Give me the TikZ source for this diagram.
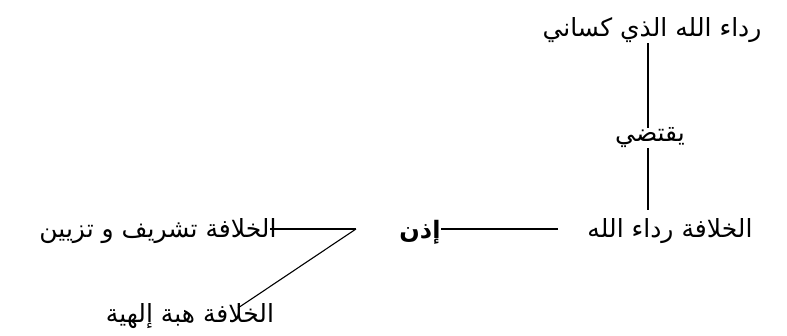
\documentclass[tikz,border=0pt]{standalone}
\usepackage{fontspec}
\newfontfamily\arabicfont[Script=Arabic]{DejaVu Sans}
\TeXXeTstate=1
\usetikzlibrary{positioning}

\begin{document}
\begin{tikzpicture}[x=1pt,y=-1pt]
  \tikzset{
    term/.style={
      font=\arabicfont\fontsize{25}{28}\selectfont,
      inner sep=0pt,
      anchor=center
    },
    keyword/.style={
      font=\arabicfont\bfseries\fontsize{24}{28}\selectfont,
      inner sep=0pt,
      anchor=center
    },
    link/.style={
      draw,
      line width=1.1pt
    }
  }
  \useasboundingbox (0,0) rectangle (787,336);

  % Draw the terms
  \node[term] at (652, 30) (rida) {\beginR رداء الله الذي كساني\endR};
  \node[term] at (650, 138) (yaqtadi) {\beginR يقتضي\endR};
  \node[term] at (670, 231) (khilafa) {\beginR الخلافة رداء الله\endR};
  \node[keyword] at (420, 232) (idhan) {\beginR إذن\endR};
  \node[term] at (158, 231) (tashrif) {\beginR الخلافة تشريف و تزيين\endR};
  \node[term] at (190, 316) (hiba) {\beginR الخلافة هبة إلهية\endR};

  % Free ends of the fork
  \coordinate (fork) at (356, 229);
  \coordinate (tashrifend) at (270, 229);
  \coordinate (hibaend) at (238, 308);

  % Draw the links
  \draw[link] (yaqtadi.north -| 648,0) -- (648, 43);
  \draw[link] (yaqtadi.south -| 648,0) -- (648, 210);
  \draw[link] (558, 229) -- (idhan.east |- 0, 229);
  \draw[link] (fork) -- (tashrifend);
  \draw[link] (fork) -- (hibaend);

\end{tikzpicture}
\end{document}
